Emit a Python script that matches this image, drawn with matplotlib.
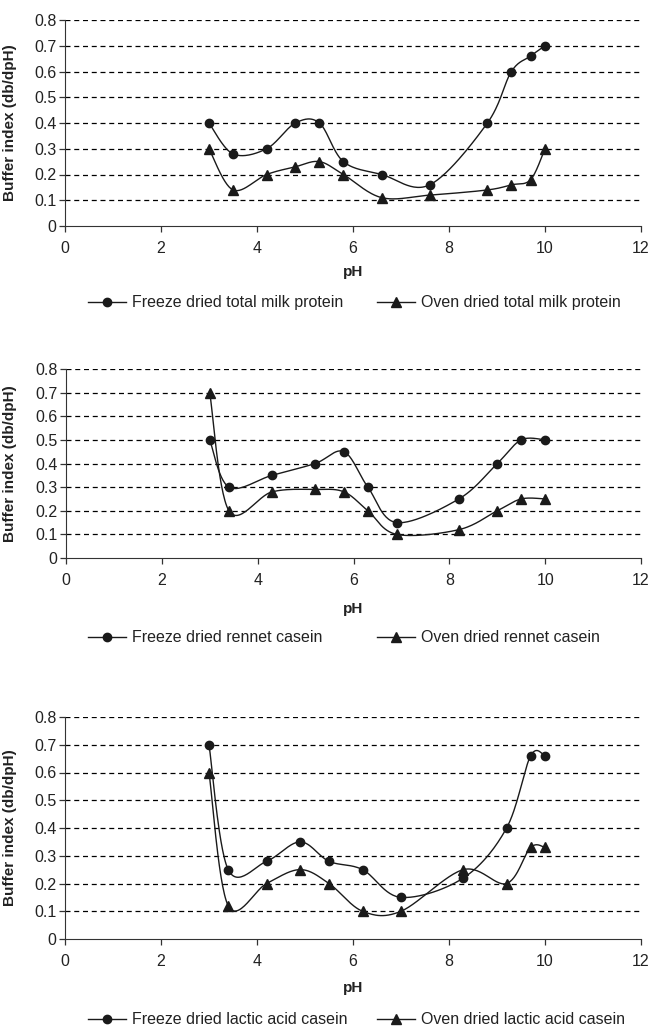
import numpy as np
import matplotlib
matplotlib.use("Agg")
import matplotlib.pyplot as plt

plt.rcParams['font.family'] = ['Liberation Sans', 'DejaVu Sans']

# Panel 1: total milk protein
p1_fd_x = [3.0, 3.5, 4.2, 4.8, 5.3, 5.8, 6.6, 7.6, 8.8, 9.3, 9.7, 10.0]
p1_fd_y = [0.40, 0.28, 0.30, 0.40, 0.40, 0.25, 0.20, 0.16, 0.40, 0.60, 0.66, 0.70]
p1_od_x = [3.0, 3.5, 4.2, 4.8, 5.3, 5.8, 6.6, 7.6, 8.8, 9.3, 9.7, 10.0]
p1_od_y = [0.30, 0.14, 0.20, 0.23, 0.25, 0.20, 0.11, 0.12, 0.14, 0.16, 0.18, 0.30]

# Panel 2: rennet casein
p2_fd_x = [3.0, 3.4, 4.3, 5.2, 5.8, 6.3, 6.9, 8.2, 9.0, 9.5, 10.0]
p2_fd_y = [0.50, 0.30, 0.35, 0.40, 0.45, 0.30, 0.15, 0.25, 0.40, 0.50, 0.50]
p2_od_x = [3.0, 3.4, 4.3, 5.2, 5.8, 6.3, 6.9, 8.2, 9.0, 9.5, 10.0]
p2_od_y = [0.70, 0.20, 0.28, 0.29, 0.28, 0.20, 0.10, 0.12, 0.20, 0.25, 0.25]

# Panel 3: lactic acid casein
p3_fd_x = [3.0, 3.4, 4.2, 4.9, 5.5, 6.2, 7.0, 8.3, 9.2, 9.7, 10.0]
p3_fd_y = [0.70, 0.25, 0.28, 0.35, 0.28, 0.25, 0.15, 0.22, 0.40, 0.66, 0.66]
p3_od_x = [3.0, 3.4, 4.2, 4.9, 5.5, 6.2, 7.0, 8.3, 9.2, 9.7, 10.0]
p3_od_y = [0.60, 0.12, 0.20, 0.25, 0.20, 0.10, 0.10, 0.25, 0.20, 0.33, 0.33]

labels = [
    ("Freeze dried total milk protein", "Oven dried total milk protein"),
    ("Freeze dried rennet casein", "Oven dried rennet casein"),
    ("Freeze dried lactic acid casein", "Oven dried lactic acid casein"),
]

x_ticks = [0, 2, 4, 6, 8, 10, 12]
y_ticks = [0, 0.1, 0.2, 0.3, 0.4, 0.5, 0.6, 0.7, 0.8]
y_tick_labels = ["0", "0.1", "0.2", "0.3", "0.4", "0.5", "0.6", "0.7", "0.8"]


def smooth(xs, ys, n=30):
    """Excel-like smoothing: cubic Bezier with Catmull-Rom control points."""
    xs = np.asarray(xs, float)
    ys = np.asarray(ys, float)
    px = [xs[0]]
    py = [ys[0]]
    m = len(xs)
    t = np.linspace(0, 1, n)[1:]
    for i in range(m - 1):
        x0, y0 = (xs[i - 1], ys[i - 1]) if i > 0 else (xs[i], ys[i])
        x1, y1 = xs[i], ys[i]
        x2, y2 = xs[i + 1], ys[i + 1]
        x3, y3 = (xs[i + 2], ys[i + 2]) if i + 2 < m else (xs[i + 1], ys[i + 1])
        c1x = x1 + (x2 - x0) / 6.0
        c1y = y1 + (y2 - y0) / 6.0
        c2x = x2 - (x3 - x1) / 6.0
        c2y = y2 - (y3 - y1) / 6.0
        bx = (1 - t) ** 3 * x1 + 3 * (1 - t) ** 2 * t * c1x + 3 * (1 - t) * t ** 2 * c2x + t ** 3 * x2
        by = (1 - t) ** 3 * y1 + 3 * (1 - t) ** 2 * t * c1y + 3 * (1 - t) * t ** 2 * c2y + t ** 3 * y2
        px.extend(bx)
        py.extend(by)
    return np.array(px), np.array(py)


fig = plt.figure(figsize=(6.52, 10.27), dpi=100)
W, H = 652.0, 1027.0
# (left, right, top_px, bottom_px)
boxes = [(65, 641, 20, 226), (66, 641, 369, 558), (65, 641, 717, 939)]
legend_y = [303, 638, 1020]
xlabel_y = [272, 609, 988]

data = [
    (p1_fd_x, p1_fd_y, p1_od_x, p1_od_y),
    (p2_fd_x, p2_fd_y, p2_od_x, p2_od_y),
    (p3_fd_x, p3_fd_y, p3_od_x, p3_od_y),
]

ink = '#1a1a1a'
txt = '#222222'

for k, (box, d, lab) in enumerate(zip(boxes, data, labels)):
    l, r, t, b = box
    ax = fig.add_axes([l / W, 1 - b / H, (r - l) / W, (b - t) / H])
    fx, fy, ox, oy = d
    sx, sy = smooth(fx, fy)
    ax.plot(sx, sy, color=ink, lw=1.0, zorder=3)
    ax.plot(fx, fy, 'o', color=ink, ms=6, zorder=4)
    tx, ty = smooth(ox, oy)
    ax.plot(tx, ty, color=ink, lw=1.0, zorder=3)
    ax.plot(ox, oy, '^', color=ink, ms=6.5, zorder=4)

    # legend proxies
    h1, = ax.plot([], [], '-o', color=ink, lw=1.0, ms=6)
    h2, = ax.plot([], [], '-^', color=ink, lw=1.0, ms=6.5)

    ax.set_xlim(0, 12)
    ax.set_ylim(0, 0.8)
    ax.set_xticks(x_ticks)
    ax.set_xticklabels([str(v) for v in x_ticks])
    ax.set_yticks(y_ticks)
    ax.set_yticklabels(y_tick_labels)
    for yv in y_ticks[1:]:
        ax.axhline(yv, color='black', lw=0.9, ls=(0, (4, 3)), zorder=1)
    ax.spines['top'].set_visible(False)
    ax.spines['right'].set_visible(False)
    ax.spines['left'].set_color('#333333')
    ax.spines['bottom'].set_color('#333333')
    ax.tick_params(axis='both', direction='out', length=4, width=0.9,
                   colors='#333333', labelsize=11.5, labelcolor=txt)
    ax.tick_params(axis='x', pad=7)
    ax.tick_params(axis='y', pad=2)
    ax.set_ylabel("Buffer index (db/dpH)", fontsize=11, fontweight='bold', color=txt)
    ax.yaxis.set_label_coords((17 - l) / (r - l), 0.5)
    fig.text(353 / W, 1 - xlabel_y[k] / H, "pH", ha='center', va='center',
             fontsize=11, fontweight='bold', color=txt)
    for h, s, x0 in ((h1, lab[0], 88), (h2, lab[1], 377)):
        fig.legend([h], [s], loc='center left', frameon=False,
                   bbox_to_anchor=(x0 / W, 1 - legend_y[k] / H),
                   borderaxespad=0, borderpad=0,
                   fontsize=11.5, handlelength=2.4, handletextpad=0.35,
                   labelcolor=txt)

fig.savefig("out.png", dpi=100)
